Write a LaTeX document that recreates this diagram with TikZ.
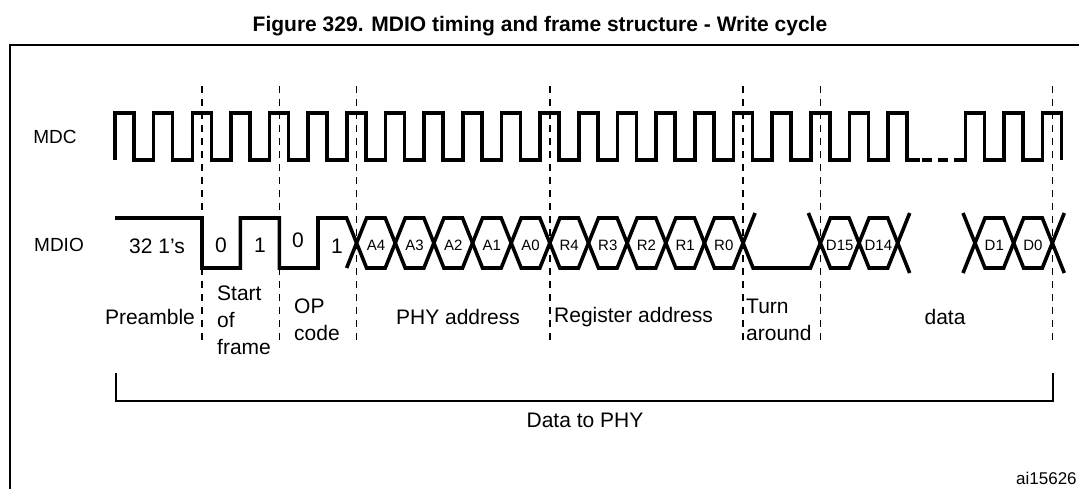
\documentclass[tikz,border=0pt]{standalone}
\usepackage{fontspec}
\setmainfont{Liberation Sans}
\begin{document}
\begin{tikzpicture}[x=1pt,y=-1pt,
  sig/.style={line width=3.6pt,line join=miter},
  sep/.style={line width=1.5pt,dash pattern=on 7pt off 6pt},
  lbl/.style={font=\fontsize{21}{25}\selectfont,inner sep=0pt},
  bit/.style={font=\fontsize{15}{18}\selectfont,inner sep=0pt},
  ml/.style={font=\fontsize{21}{25}\selectfont,inner sep=0pt,align=left}]
\useasboundingbox (0,0) rectangle (1079,488);
\def\p{38.65}
\def\d{10}
% frame
\draw[line width=1.5pt] (10,500) -- (10,45) -- (1090,45);
\node[font=\bfseries\fontsize{21}{25}\selectfont] (title) at (540,26) {Figure 329. MDIO timing and frame structure - Write cycle};
% names
\node[lbl,font=\fontsize{19}{23}\selectfont] (mdc) at (55,137) {MDC};
\node[lbl,font=\fontsize{19}{23}\selectfont] (mdio) at (59,245) {MDIO};
% dashed separators
\foreach \j in {0,2,4,9,14,16,22}
  \draw[sep] ({202+\j*\p},86) -- ({202+\j*\p},345);
% clock
\draw[sig] (115,160) \foreach \k in {0,...,20}{ -- ({115+\k*\p},160) -- ({115+\k*\p},113) -- ({134+\k*\p},113) -- ({134+\k*\p},160)} -- (920,160);
\draw[line width=3.6pt,dash pattern=on 10pt off 6pt] (922,160) -- (962,160);
\draw[sig] (962,160) \foreach \k in {22,23,24}{ -- ({115+\k*\p},160) -- ({115+\k*\p},113) -- ({134+\k*\p},113) -- ({134+\k*\p},160)};
% MDIO preamble, SOF, OP
\draw[sig] (115,218) -- (202,218) -- (202,268) -- (240.3,268) -- (240.3,218) -- (279.3,218) -- (279.3,268) -- (318,268) -- (318,218) -- (346.6,218) -- (356.6,243);
\draw[sig] (346.6,268) -- (356.6,243);
% hexagons
\foreach \j in {4,...,13,16,17,20,21}{
  \pgfmathsetmacro\a{202+\j*\p}
  \pgfmathsetmacro\b{202+(\j+1)*\p}
  \draw[sig] (\a,243) -- (\a+\d,218) -- (\b-\d,218) -- (\b,243) -- (\b-\d,268) -- (\a+\d,268) -- cycle;
}
% turnaround
\draw[sig] (743.1,243) -- (753.1,268) -- (810.4,268) -- (820.4,243);
\draw[sig] (743.1,243) -- (755.1,213);
\draw[sig] (820.4,243) -- (808.4,213);
% free arms
\draw[sig] (909.7,213) -- (897.7,243) -- (909.7,273);
\draw[sig] (963,213) -- (975,243) -- (963,273);
\draw[sig] (1064.3,213) -- (1052.3,243) -- (1064.3,273);
% bit labels
\node[lbl] (pre) at (157,246) {32 1's};
\node[lbl] (s0) at (221,245) {0};
\node[lbl] (s1) at (260,245) {1};
\node[lbl] (o0) at (298,240) {0};
\node[lbl] (o1) at (337,246) {1};
\foreach \j/\t in {4/A4,5/A3,6/A2,7/A1,8/A0,9/R4,10/R3,11/R2,12/R1,13/R0,16/D15,17/D14,20/D1,21/D0}
  \node[bit] (b\j) at ({202+(\j+0.5)*\p},245) {\t};
% field labels
\node[lbl] (lpre) at (150,317) {Preamble};
\node[ml,anchor=west,font=\fontsize{21}{27}\selectfont] (lsof) at (217,320) {Start\\of\\frame};
\node[ml,anchor=west,font=\fontsize{21}{27}\selectfont] (lop) at (294,320) {OP\\code};
\node[lbl] (lphy) at (458,317) {PHY address};
\node[lbl,anchor=west] (lreg) at (554,317) {Register address};
\node[ml,anchor=west,font=\fontsize{21}{27}\selectfont] (lta) at (746,320) {Turn\\around};
\node[lbl] (ldata) at (945,317) {data};
% bracket
\coordinate (bl) at (116,373);
\coordinate (br) at (1053,373);
\draw[line width=1.5pt] (bl) -- (116,401) -- (1053,401) -- (br);
\node[lbl] (dtp) at (585,420) {Data to PHY};
\node[font=\fontsize{17}{20}\selectfont,anchor=west,inner sep=0pt] (id) at (1016,478) {ai15626};
\end{tikzpicture}
\end{document}
